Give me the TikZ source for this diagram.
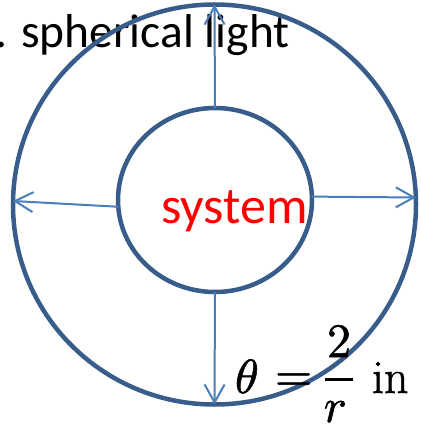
\documentclass[tikz,border=0pt]{standalone}
\usepackage{fontspec}
\usepackage{unicode-math}
\setmathfont[FakeBold=1.2]{Latin Modern Math}
\newfontfamily\calibri{Carlito}
\newfontfamily\serifin[FakeBold=1.2]{Latin Modern Roman}
\usetikzlibrary{shapes.geometric,arrows.meta}
\definecolor{ringblue}{RGB}{56,93,138}
\definecolor{arrowblue}{RGB}{74,126,187}
\begin{document}
\begin{tikzpicture}[x=1pt,y=-1pt,
 ring/.style={ellipse, draw=ringblue, line width=4.5pt, inner sep=0pt, outer sep=0pt},
 ray/.style={draw=arrowblue, line width=2pt, -{Straight Barb[length=18pt,width=20pt]}},
 lbl/.style={inner sep=0pt, outer sep=0pt},
 big/.style={font=\fontsize{48}{57}\selectfont}]
\useasboundingbox (0,0) rectangle (420,428);
\node[lbl, anchor=base west, font=\calibri\fontsize{47.5}{57}\selectfont] (title) at (-5,48) {. spherical light};
\node[ring, minimum width=403pt, minimum height=400pt] (outer) at (214.5,204.5) {};
\node[ring, minimum width=194pt, minimum height=184pt] (inner) at (215,200) {};
\node[lbl, anchor=base, text=red, font=\calibri\fontsize{52}{62}\selectfont] (sys) at (234.5,223) {system};
\draw[ray] (inner.north) -- (outer.north);
\draw[ray] (inner.south) -- (outer.south);
\draw[ray] (inner.184) -- (outer.179);
\draw[ray] (inner.2.4) -- (outer.2.4);
\node[lbl, big, anchor=base west] (theta) at (235,393) {$\theta$};
\node[lbl, big, anchor=base west] (eq) at (275,391) {$=$};
\node[lbl, big, anchor=base] (num) at (339,357) {$2$};
\node[lbl, big, anchor=base] (den) at (335,422) {$r$};
\node[lbl, big, anchor=base west] (in) at (372,393) {\serifin in};
\coordinate (barl) at (325,379);
\coordinate (barr) at (353,379);
\draw[line width=3pt] (barl) -- (barr);
\end{tikzpicture}
\end{document}
